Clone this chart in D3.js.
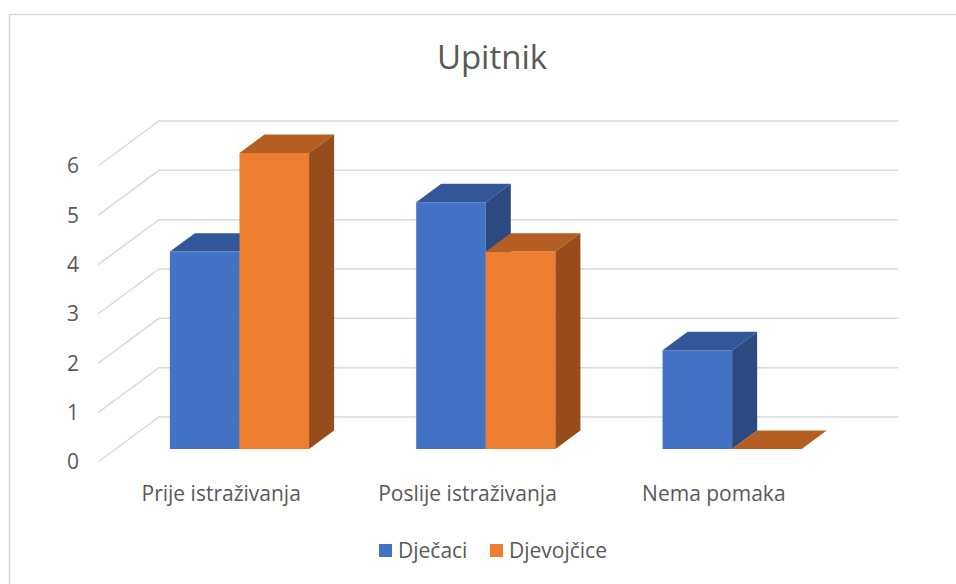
<!DOCTYPE html>
<html>
<head>
<meta charset="utf-8">
<script src="https://cdn.jsdelivr.net/npm/d3@7"></script>
<style>
  body { margin: 0; background: #fff; }
  text { font-family: "Open Sans", sans-serif; fill: #595959; }
</style>
</head>
<body>
<svg id="chart" width="956" height="584"></svg>
<script>
// --- Data ---
const categories = ["Prije istraživanja", "Poslije istraživanja", "Nema pomaka"];
const seriesNames = ["Dječaci", "Djevojčice"];
const djecaci = [4, 5, 2];
const djevojcice = [6, 4, 0];
const yTicks = [0, 1, 2, 3, 4, 5, 6];

const svg = d3.select("#chart");
const width = +svg.attr("width");
const height = +svg.attr("height");

// chart frame
svg.append("rect")
  .attr("x", 9.5).attr("y", 14.5)
  .attr("width", width).attr("height", height)
  .attr("fill", "#fff").attr("stroke", "#d9d9d9").attr("stroke-width", 1.5);

// --- Oblique 3D projection ---
const depthX = 61, depthY = 45;
const y = d3.scaleLinear().domain([0, 6]).range([462, 166]);
const x0 = d3.scaleBand().domain(categories).range([98, 837]);
const x1 = d3.scaleBand().domain(seriesNames)
  .range([x0.bandwidth() * 0.22, x0.bandwidth() * 0.785]);
const color = d3.scaleOrdinal().domain(seriesNames).range(["#4472c4", "#ed7d31"]);
const topColor = d3.scaleOrdinal().domain(seriesNames).range(["#32579b", "#b55e22"]);
const sideColor = d3.scaleOrdinal().domain(seriesNames).range(["#2a4a81", "#974c1c"]);

const proj = (px, v, z) => [px + z * depthX, y(v) - z * depthY];

// --- Back wall gridlines ---
const grid = svg.append("g");
grid.selectAll("path")
  .data(yTicks)
  .join("path")
  .attr("fill", "none")
  .attr("stroke", "#d9d9d9")
  .attr("stroke-width", 1.5)
  .attr("d", d => d3.line()([proj(98, d, 0), proj(98, d, 1), proj(837, d, 1)]));

// y labels
svg.append("g").selectAll("text")
  .data(yTicks)
  .join("text")
  .attr("x", 79)
  .attr("y", d => y(d))
  .attr("dy", "0.35em")
  .attr("text-anchor", "end")
  .attr("font-size", 21)
  .text(d => d);

// --- Bars ---
const zFront = 0.29, zBack = 0.7;
const bars = [];
seriesNames.forEach((s, si) => {
  const vals = si === 0 ? djecaci : djevojcice;
  categories.forEach((c, ci) => bars.push({ series: s, cat: c, value: vals[ci] }));
});

const barG = svg.append("g").selectAll("g")
  .data(bars)
  .join("g");

barG.append("path") // front
  .attr("fill", d => color(d.series))
  .attr("d", d => {
    const l = x0(d.cat) + x1(d.series), r = l + x1.bandwidth();
    return d3.line()([proj(l, 0, zFront), proj(r, 0, zFront), proj(r, d.value, zFront), proj(l, d.value, zFront)]) + "Z";
  });

barG.append("path") // top
  .attr("fill", d => topColor(d.series))
  .attr("d", d => {
    const l = x0(d.cat) + x1(d.series), r = l + x1.bandwidth();
    return d3.line()([proj(l, d.value, zFront), proj(r, d.value, zFront), proj(r, d.value, zBack), proj(l, d.value, zBack)]) + "Z";
  });

barG.append("path") // side
  .attr("fill", d => sideColor(d.series))
  .attr("d", d => {
    const r = x0(d.cat) + x1(d.series) + x1.bandwidth();
    return d3.line()([proj(r, 0, zFront), proj(r, 0, zBack), proj(r, d.value, zBack), proj(r, d.value, zFront)]) + "Z";
  });

// --- Category labels ---
svg.append("g").selectAll("text")
  .data(categories)
  .join("text")
  .attr("x", d => x0(d) + x0.bandwidth() / 2)
  .attr("y", 501)
  .attr("text-anchor", "middle")
  .attr("font-size", 21)
  .text(d => d);

// --- Title ---
svg.append("text")
  .attr("x", 492)
  .attr("y", 69)
  .attr("text-anchor", "middle")
  .attr("font-size", 33)
  .text("Upitnik");

// --- Legend ---
const legendX = [379, 490];
const legend = svg.append("g").selectAll("g")
  .data(seriesNames)
  .join("g")
  .attr("transform", (d, i) => `translate(${legendX[i]},544)`);
legend.append("rect")
  .attr("width", 13).attr("height", 13)
  .attr("fill", d => color(d));
legend.append("text")
  .attr("x", 19)
  .attr("y", 6.5)
  .attr("dy", "0.35em")
  .attr("font-size", 21)
  .text(d => d);
</script>
</body>
</html>
